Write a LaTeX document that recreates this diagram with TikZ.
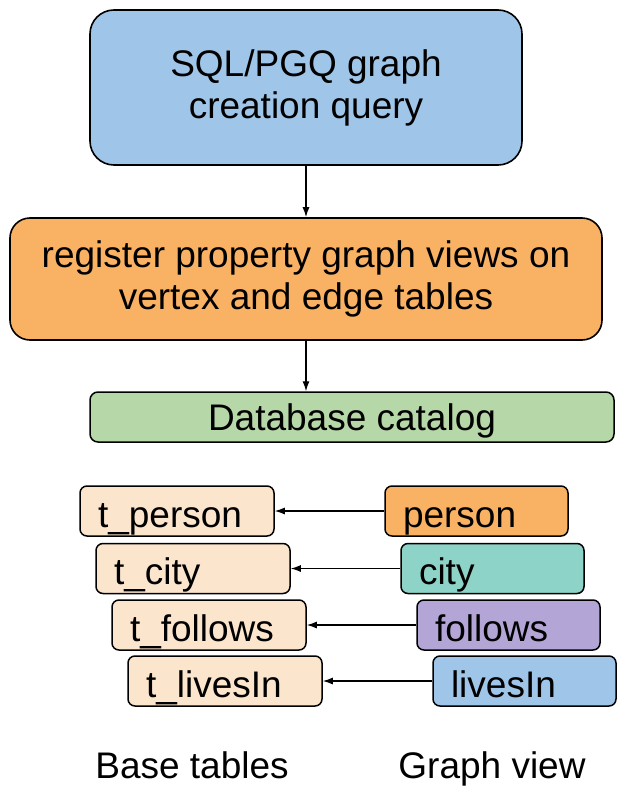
\documentclass[tikz,border=0pt]{standalone}
\usepackage{fontspec}
\setmainfont{Liberation Sans}
\usetikzlibrary{arrows.meta}

\definecolor{qblue}{HTML}{9FC5E8}
\definecolor{qorange}{HTML}{F9B264}
\definecolor{qgreen}{HTML}{B6D7A8}
\definecolor{qpeach}{HTML}{FCE5CD}
\definecolor{qteal}{HTML}{8DD3C7}
\definecolor{qpurple}{HTML}{B3A5D6}

\begin{document}
\begin{tikzpicture}[x=1pt,y=-1pt,
  big/.style={font=\fontsize{37pt}{42pt}\selectfont},
  box/.style={big, draw=black, line width=1.6pt, rounded corners=#1,
    align=center, inner sep=0pt},
  tablebox/.style={big, draw=black, line width=1.5pt, rounded corners=7pt,
    fill=qpeach, minimum height=50pt, text width=158pt, inner xsep=18pt,
    inner ysep=0pt, align=left, text height=40pt, text depth=8pt},
  viewbox/.style={big, draw=black, line width=1.5pt, rounded corners=7pt,
    fill=#1, minimum height=50pt, text width=147pt, inner xsep=18pt,
    inner ysep=0pt, align=left, text height=40pt, text depth=8pt},
  link/.style={draw=black, line width=1.3pt, -{Latex[length=10pt,width=7pt]}},
  caption/.style={big, inner sep=0pt, anchor=base}
]
\useasboundingbox (0,0) rectangle (616,787);

% pipeline
\node[box=24pt, fill=qblue, minimum width=432pt, minimum height=155pt]
  (query) at (306,87.5) {SQL/PGQ graph\\creation query};
\node[box=20pt, fill=qorange, minimum width=592pt, minimum height=122pt]
  (register) at (306,279) {register property graph views on\\vertex and edge tables};
\node[box=8pt, fill=qgreen, minimum width=524pt, minimum height=50pt,
  line width=1.5pt, text height=34pt, text depth=8pt]
  (catalog) at (352,417) {Database catalog};

\draw[link] (query) -- (register);
\draw[link] (register.south) -- (register.south |- catalog.north);

% base tables
\node[tablebox] (tperson)  at (177,511)   {t\_person};
\node[tablebox] (tcity)    at (193,568.5) {t\_city};
\node[tablebox] (tfollows) at (209,625)   {t\_follows};
\node[tablebox] (tlivesin) at (225,681)   {t\_livesIn};

% graph view
\node[viewbox=qorange] (person)  at (476.5,511)   {person};
\node[viewbox=qteal]   (city)    at (492.5,568.5) {city};
\node[viewbox=qpurple] (follows) at (508.5,625)   {follows};
\node[viewbox=qblue]   (livesin) at (524.5,681)   {livesIn};

\draw[link] (person)  -- (tperson);
\draw[link] (city)    -- (tcity);
\draw[link] (follows) -- (tfollows);
\draw[link] (livesin) -- (tlivesin);

\node[caption] (basecap)  at (192,778) {Base tables};
\node[caption] (graphcap) at (492,778) {Graph view};
\end{tikzpicture}
\end{document}
